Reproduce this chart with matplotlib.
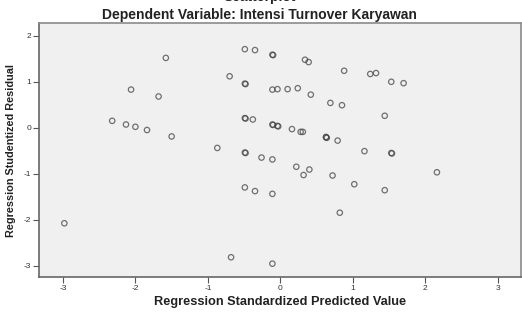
# SPSS-style residual scatterplot: studentized residual vs standardized predicted value
import matplotlib
matplotlib.use("Agg")
import matplotlib.pyplot as plt

plt.rcParams.update({"font.family": ["Liberation Sans", "DejaVu Sans"],
                     "axes.unicode_minus": False})

# values (near-duplicates kept as separate points)
pred = [-1.58, -0.49, -0.35, -0.11, -0.10, -0.70, -0.49, -0.48, -0.11, -0.04,
        -2.06, -1.68, -2.32, -2.13, -2.00, -1.84, -1.50, -0.49, -0.48, -0.38,
        -0.11, -0.10, -0.04, -0.03, -0.87, 0.34, 0.39, 0.88, 1.24, 1.32,
        1.53, 1.70, 0.10, 0.24, 0.42, 0.69, 0.85, 1.44, 0.16, 0.28,
        0.31, 0.63, 0.64, 0.63, 0.79, -0.49, -0.48, -0.26, -0.11, -0.49,
        -0.35, -0.11, -2.98, -0.68, -0.11, 1.16, 1.53, 1.54, 0.22, 0.40,
        0.32, 0.72, 2.16, 1.02, 1.44, 0.82]
resid = [1.52, 1.71, 1.69, 1.59, 1.58, 1.12, 0.96, 0.95, 0.83, 0.84,
         0.83, 0.68, 0.15, 0.07, 0.02, -0.05, -0.19, 0.21, 0.20, 0.18,
         0.07, 0.06, 0.04, 0.03, -0.44, 1.48, 1.43, 1.24, 1.17, 1.19,
         1.00, 0.97, 0.84, 0.86, 0.72, 0.54, 0.49, 0.26, -0.03, -0.09,
         -0.09, -0.21, -0.22, -0.20, -0.28, -0.54, -0.55, -0.65, -0.69, -1.30,
         -1.38, -1.44, -2.08, -2.82, -2.96, -0.51, -0.55, -0.56, -0.85, -0.91,
         -1.03, -1.04, -0.97, -1.23, -1.36, -1.85]

XTICKS = [-3, -2, -1, 0, 1, 2, 3]
YTICKS = [-3, -2, -1, 0, 1, 2]

fig = plt.figure(figsize=(5.22, 3.23), dpi=100)
ax = fig.add_axes([0.0747, 0.1424, 0.9234, 0.7864])
ax.set_facecolor("#f0f0f0")

ax.scatter(pred, resid, s=15, facecolors="none", edgecolors="#444444",
           linewidths=0.9, alpha=0.75)

ax.set_xlim(-3.33, 3.32)
ax.set_ylim(-3.25, 2.28)
ax.set_xticks(XTICKS)
ax.set_yticks(YTICKS)
ax.tick_params(direction="out", length=4, width=0.8, color="#555555",
               labelsize=6, labelcolor="#333333", pad=1.5)

for side in ("left", "bottom"):
    ax.spines[side].set_color("#666666")
    ax.spines[side].set_linewidth(1.2)
for side in ("top", "right"):
    ax.spines[side].set_color("#8a8a8a")
    ax.spines[side].set_linewidth(1.2)

ax.set_xlabel("Regression Standardized Predicted Value", fontsize=9.2,
              fontweight="bold", color="#222222", labelpad=3)
ax.set_ylabel("Regression Studentized Residual", fontsize=7.8,
              fontweight="bold", color="#222222", labelpad=6)

fig.text(0.497, 1.008, "Scatterplot", ha="center", va="center",
         fontsize=10, fontweight="bold", color="#222222")
fig.text(0.497, 0.954, "Dependent Variable: Intensi Turnover Karyawan",
         ha="center", va="center", fontsize=10, fontweight="bold",
         color="#222222")

fig.savefig("out.png", dpi=100)
